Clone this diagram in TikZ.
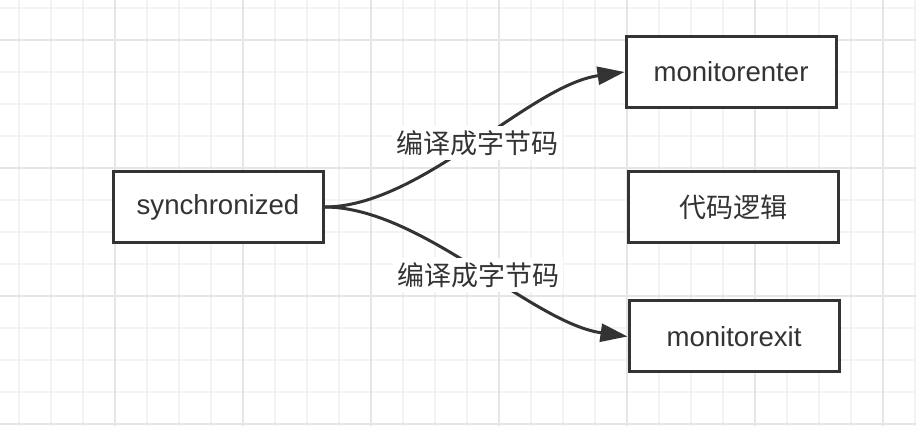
\documentclass[tikz,border=0pt]{standalone}
\usepackage{fontspec}
\setmainfont{Liberation Sans}
\newfontfamily\cjk{Noto Sans CJK SC}
\usepackage{xcolor}
\usepackage{tikz}
\usetikzlibrary{arrows.meta}
\definecolor{ink}{HTML}{333333}
\definecolor{gridminor}{HTML}{F3F3F3}
\definecolor{gridmajor}{HTML}{E6E6E6}

\begin{document}
\begin{tikzpicture}[x=0.5pt,y=-0.5pt,
  box/.style={draw=ink,line width=1.5pt,fill=white,minimum width=105pt,minimum height=35.5pt,inner sep=0pt,text=ink,font=\fontsize{13.8}{16}\selectfont},
  cjkbox/.style={box,font=\cjk\fontsize{13.5}{16}\selectfont},
  flow/.style={draw=ink,line width=1.5pt,-{Triangle[length=13.5pt,width=9pt]},looseness=0.75},
  lbl/.style={fill=white,inner sep=2pt,text=ink,font=\cjk\fontsize{13.5}{16}\selectfont}]
%
\useasboundingbox (0,0) rectangle (916,426);
\fill[white] (0,0) rectangle (916,426);
\foreach \gx in {19,51,...,915} \draw[gridminor,line width=1pt] (\gx,0) -- (\gx,426);
\foreach \gy in {8.5,40.5,...,424.5} \draw[gridminor,line width=1pt] (0,\gy) -- (916,\gy);
\foreach \gx in {115,243,...,883} \draw[gridmajor,line width=1pt] (\gx,0) -- (\gx,426);
\foreach \gy in {40.5,168.5,296.5,424.5} \draw[gridmajor,line width=1pt] (0,\gy) -- (916,\gy);
%
\node (sync) at (218,207) [box] {synchronized};
\node (enter) at (731,72) [box] {monitorenter};
\node (logic) at (733,207) [cjkbox] {代码逻辑};
\node (exit) at (734,336.5) [box] {monitorexit};
%%
\draw (sync.east) edge[flow,out=0,in=188] (enter.west);
\draw (sync.east) edge[flow,out=0,in=172] (exit.west);
%
\node (c1) at (477,143) [lbl] {编译成字节码};
\node (c2) at (478,275) [lbl] {编译成字节码};
\end{tikzpicture}
\end{document}
